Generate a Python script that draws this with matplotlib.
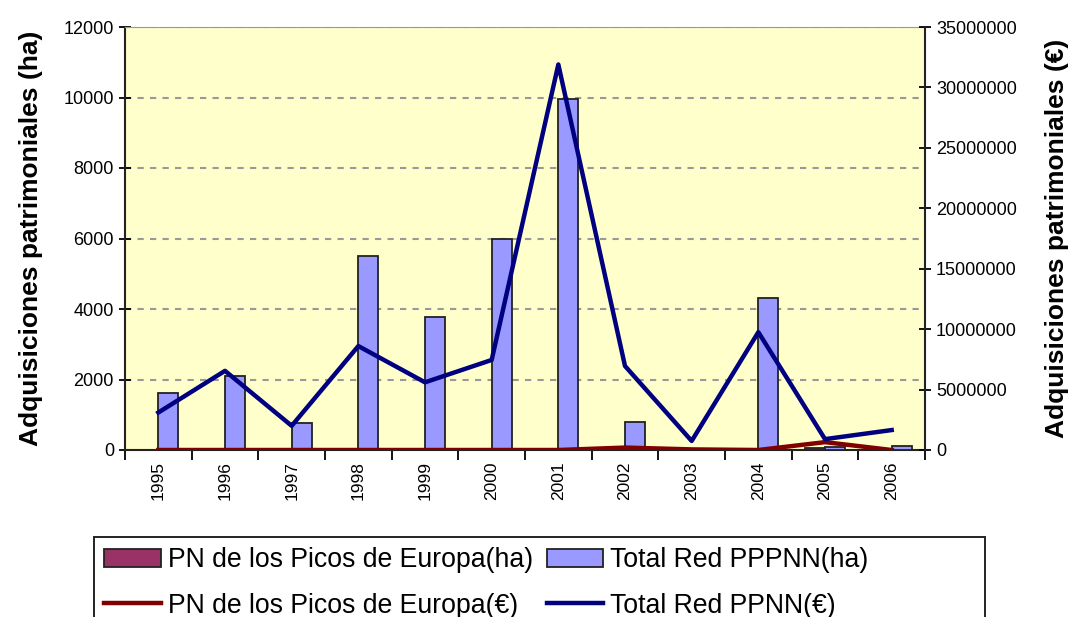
import matplotlib
matplotlib.use("Agg")
import matplotlib.pyplot as plt
from matplotlib.ticker import FixedLocator, NullFormatter, FuncFormatter
from matplotlib.patches import Rectangle
import numpy as np

plt.rcParams['font.family'] = ['Liberation Sans', 'DejaVu Sans']

years = ["1995", "1996", "1997", "1998", "1999", "2000", "2001", "2002", "2003", "2004", "2005", "2006"]
pn_ha = [0, 0, 0, 0, 0, 0, 0, 0, 0, 0, 60, 0]
total_ha = [1620, 2100, 780, 5500, 3770, 6000, 9950, 800, 30, 4310, 80, 120]
pn_eur = [0, 0, 0, 0, 0, 0, 0, 200000, 50000, 0, 650000, 0]
total_eur = [3100000, 6550000, 2000000, 8600000, 5600000, 7450000, 31900000, 6950000, 750000, 9750000, 900000, 1650000]

W, H = 1073, 617
fig = plt.figure(figsize=(W/100, H/100), dpi=100)
ax = fig.add_axes([125/W, 1-450/H, 800/W, 423/H])
ax.set_facecolor('#FFFFCC')
x = np.arange(len(years))
bw = 0.3
ax.bar(x - bw/2, pn_ha, bw, color='#993366', edgecolor='#222222', linewidth=1.3, label='PN de los Picos de Europa(ha)', zorder=3)
ax.bar(x + bw/2, total_ha, bw, color='#9999FF', edgecolor='#222222', linewidth=1.3, label='Total Red PPPNN(ha)', zorder=3)
ax.set_xlim(-0.5, len(years) - 0.5)
ax.set_ylim(0, 12000)
ax.set_yticks(range(0, 12001, 2000))
for yv in range(2000, 12001, 2000):
    ax.axhline(yv, color='#999999', linestyle=(0, (3, 3)), linewidth=1.5, zorder=1)
ax.xaxis.set_major_locator(FixedLocator(np.arange(-0.5, len(years), 1.0)))
ax.xaxis.set_major_formatter(NullFormatter())
ax.xaxis.set_minor_locator(FixedLocator(x))
ax.set_xticklabels(years, minor=True, rotation=90, fontsize=12.5)
ax.tick_params(axis='x', which='major', direction='out', length=7, width=1.3)
ax.tick_params(axis='x', which='minor', length=0, pad=8)
ax.tick_params(axis='y', direction='inout', length=9, width=1.3, labelsize=13)
ax.set_ylabel('Adquisiciones patrimoniales (ha)', fontsize=19, fontweight='bold', labelpad=15)
for s in ['left', 'bottom']:
    ax.spines[s].set_linewidth(1.5)
    ax.spines[s].set_color('#222222')
ax.spines['top'].set_color('#999999')
ax.spines['right'].set_visible(False)

ax2 = ax.twinx()
ax2.set_facecolor('none')
ax2.plot(x, pn_eur, color='#800000', linewidth=3.2, label='PN de los Picos de Europa(€)', zorder=4)
ax2.plot(x, total_eur, color='#000080', linewidth=3.2, label='Total Red PPNN(€)', zorder=5)
ax2.set_ylim(0, 35000000)
ax2.set_yticks(range(0, 35000001, 5000000))
ax2.yaxis.set_major_formatter(FuncFormatter(lambda v, p: f"{int(v)}"))
ax2.tick_params(axis='y', direction='inout', length=9, width=1.3, labelsize=13)
ax2.set_ylabel('Adquisiciones patrimoniales (€)', fontsize=19, fontweight='bold', labelpad=20)
ax2.spines['right'].set_linewidth(1.5)
ax2.spines['right'].set_color('#222222')
ax2.spines['top'].set_visible(False)
ax2.spines['left'].set_visible(False)
ax2.spines['bottom'].set_visible(False)

h1, l1 = ax.get_legend_handles_labels()
h2, l2 = ax2.get_legend_handles_labels()
handles = [h1[0], h2[0], h1[1], h2[1]]
labels = [l1[0], l2[0], l1[1], l2[1]]
leg = fig.legend(handles, labels, loc='upper left', bbox_to_anchor=(99/W, 1-542/H), ncol=2,
                 fontsize=19.2, frameon=False,
                 handlelength=2.13, handleheight=0.68, handletextpad=0.26, columnspacing=0.5, borderpad=0.2,
                 labelspacing=0.72, borderaxespad=0)
fig.patches.append(Rectangle((94/W, -0.05), (985-94)/W, 0.05 + (H-537)/H, transform=fig.transFigure,
                             fill=False, edgecolor='#222222', linewidth=1.4))

fig.savefig('out.png', dpi=100)
